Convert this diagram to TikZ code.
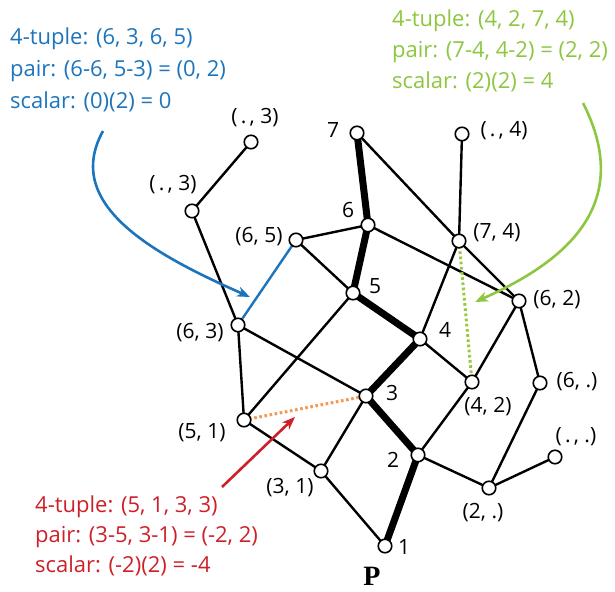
\documentclass[tikz,border=0pt]{standalone}
\usepackage{fontspec}
\setmainfont{Open Sans}
\newfontfamily\pfont{Liberation Serif}
\usetikzlibrary{arrows.meta}
\pgfdeclarelayer{background}
\pgfsetlayers{background,main}
\definecolor{cblue}{RGB}{28,117,188}
\definecolor{cgreen}{RGB}{141,198,63}
\definecolor{cred}{RGB}{206,32,41}
\definecolor{corange}{RGB}{242,152,82}
\definecolor{cgreendot}{RGB}{150,200,60}
\newcommand{\dt}{\makebox[0.57em]{.}}
\begin{document}
\begin{tikzpicture}[x=1pt,y=-1pt,
  vtx/.style={circle,draw=black,fill=white,line width=1.6pt,minimum size=13.5pt,inner sep=0pt},
  lbl/.style={font=\fontsize{21}{25}\selectfont,inner sep=0pt},
  txt/.style={font=\fontsize{22}{26}\selectfont,anchor=base west,inner sep=0pt},
  edge/.style={line width=2.4pt},
  thickedge/.style={line width=7pt},
  dotline/.style={line width=3pt,dash pattern=on 2.6pt off 2.6pt},
  callout/.style={line width=2.6pt,-{Stealth[length=13pt,width=10pt,inset=4pt]}},
]
\useasboundingbox (0,0) rectangle (615,591);

% vertices
\node[vtx] (n7) at (357,133) {};
\node[vtx] (ndot4) at (462,134) {};
\node[vtx] (n6) at (368,225) {};
\node[vtx] (n74) at (459,241) {};
\node[vtx] (n65) at (296,240) {};
\node[vtx] (ndot3a) at (251,142) {};
\node[vtx] (ndot3b) at (192,211) {};
\node[vtx] (n5) at (353,293) {};
\node[vtx] (n4) at (420,339) {};
\node[vtx] (n3) at (366,396) {};
\node[vtx] (n42) at (472,382) {};
\node[vtx] (n62) at (519,301) {};
\node[vtx] (n6dot) at (540,383) {};
\node[vtx] (n63) at (238,325) {};
\node[vtx] (n51) at (244,420) {};
\node[vtx] (n31) at (321,471) {};
\node[vtx] (n2) at (418,455) {};
\node[vtx] (n2dot) at (489,488) {};
\node[vtx] (ndotdot) at (555,457) {};
\node[vtx] (n1) at (385,546) {};

% edges
\begin{pgfonlayer}{background}
\draw[edge] (ndot3a.center) -- (ndot3b.center);
\draw[edge] (ndot3b.center) -- (n63.center);
\draw[edge] (n63.center) -- (n51.center);
\draw[edge] (n63.center) -- (n3.center);
\draw[edge] (n65.center) -- (n6.center);
\draw[edge] (n65.center) -- (n5.center);
\draw[edge] (n7.center) -- (n74.center);
\draw[edge] (n74.center) -- (n62.center);
\draw[edge] (n6.center) -- (n62.center);
\draw[edge] (ndot4.center) -- (n74.center);
\draw[edge] (n74.center) -- (n4.center);
\draw[edge] (n5.center) -- (n51.center);
\draw[edge] (n4.center) -- (n42.center);
\draw[edge] (n62.center) -- (n42.center);
\draw[edge] (n62.center) -- (n6dot.center);
\draw[edge] (n3.center) -- (n31.center);
\draw[edge] (n51.center) -- (n31.center);
\draw[edge] (n31.center) -- (n1.center);
\draw[edge] (n2.center) -- (n42.center);
\draw[edge] (n2.center) -- (n2dot.center);
\draw[edge] (n2dot.center) -- (n6dot.center);
\draw[edge] (n2dot.center) -- (ndotdot.center);
\draw[thickedge] (n7.center) -- (n6.center);
\draw[thickedge] (n6.center) -- (n5.center);
\draw[thickedge] (n5.center) -- (n4.center);
\draw[thickedge] (n4.center) -- (n3.center);
\draw[thickedge] (n3.center) -- (n2.center);
\draw[thickedge] (n2.center) -- (n1.center);
\draw[line width=2.4pt,cblue] (n65.center) -- (n63.center);
\draw[dotline,cgreendot] (n74.center) -- (n42.center);
\draw[dotline,corange] (n51.center) -- (n3.center);
\end{pgfonlayer}

% vertex labels
\node[lbl] (l7) at (333,130) {7};
\node[lbl] (ldot4) at (504,131) {(\dt, 4)};
\node[lbl] (l6) at (348,210) {6};
\node[lbl] (l74) at (497,233) {(7, 4)};
\node[lbl] (l65) at (259,237) {(6, 5)};
\node[lbl] (ldot3a) at (255,118) {(\dt, 3)};
\node[lbl] (ldot3b) at (173,185) {(\dt, 3)};
\node[lbl] (l5) at (375,286) {5};
\node[lbl] (l4) at (445,330) {4};
\node[lbl] (l62) at (557,300) {(6, 2)};
\node[lbl] (l63) at (200,333) {(6, 3)};
\node[lbl] (l3) at (392,393) {3};
\node[lbl] (l42) at (488,407) {(4, 2)};
\node[lbl] (l6dot) at (577,382) {(6, .)};
\node[lbl] (l51) at (202,433) {(5, 1)};
\node[lbl] (l31) at (290,488) {(3, 1)};
\node[lbl] (l2) at (393,460) {2};
\node[lbl] (l2dot) at (483,513) {(2, .)};
\node[lbl] (ldotdot) at (576,437) {(\dt, .)};
\node[lbl] (l1) at (404,547) {1};
\node[inner sep=0pt,font=\pfont\bfseries\fontsize{28}{30}\selectfont] (P) at (372,576) {P};

% callout texts
\node[txt,text=cblue] (b1) at (10,45) {4-tuple: (6, 3, 6, 5)};
\node[txt,text=cblue] (b2) at (10,77) {pair: (6-6, 5-3) = (0, 2)};
\node[txt,text=cblue] (b3) at (10,109) {scalar: (0)(2) = 0};
\node[txt,text=cgreen] (g1) at (392,27) {4-tuple: (4, 2, 7, 4)};
\node[txt,text=cgreen] (g2) at (392,58) {pair: (7-4, 4-2) = (2, 2)};
\node[txt,text=cgreen] (g3) at (392,89) {scalar: (2)(2) = 4};
\node[txt,text=cred] (r1) at (35,512) {4-tuple: (5, 1, 3, 3)};
\node[txt,text=cred] (r2) at (35,542) {pair: (3-5, 3-1) = (-2, 2)};
\node[txt,text=cred] (r3) at (35,572) {scalar: (-2)(2) = -4};

% callout arrows
\coordinate (bs) at (103,131);
\coordinate (bt) at (250,297);
\coordinate (gs) at (583,103);
\coordinate (gt) at (475,302);
\coordinate (rs) at (222,487);
\coordinate (rt) at (295,417);
\draw[callout,cblue] (bs) .. controls (62,205) and (155,255) .. (bt);
\draw[callout,cgreen] (gs) .. controls (635,205) and (565,262) .. (gt);
\draw[callout,cred] (rs) -- (rt);
\end{tikzpicture}
\end{document}
